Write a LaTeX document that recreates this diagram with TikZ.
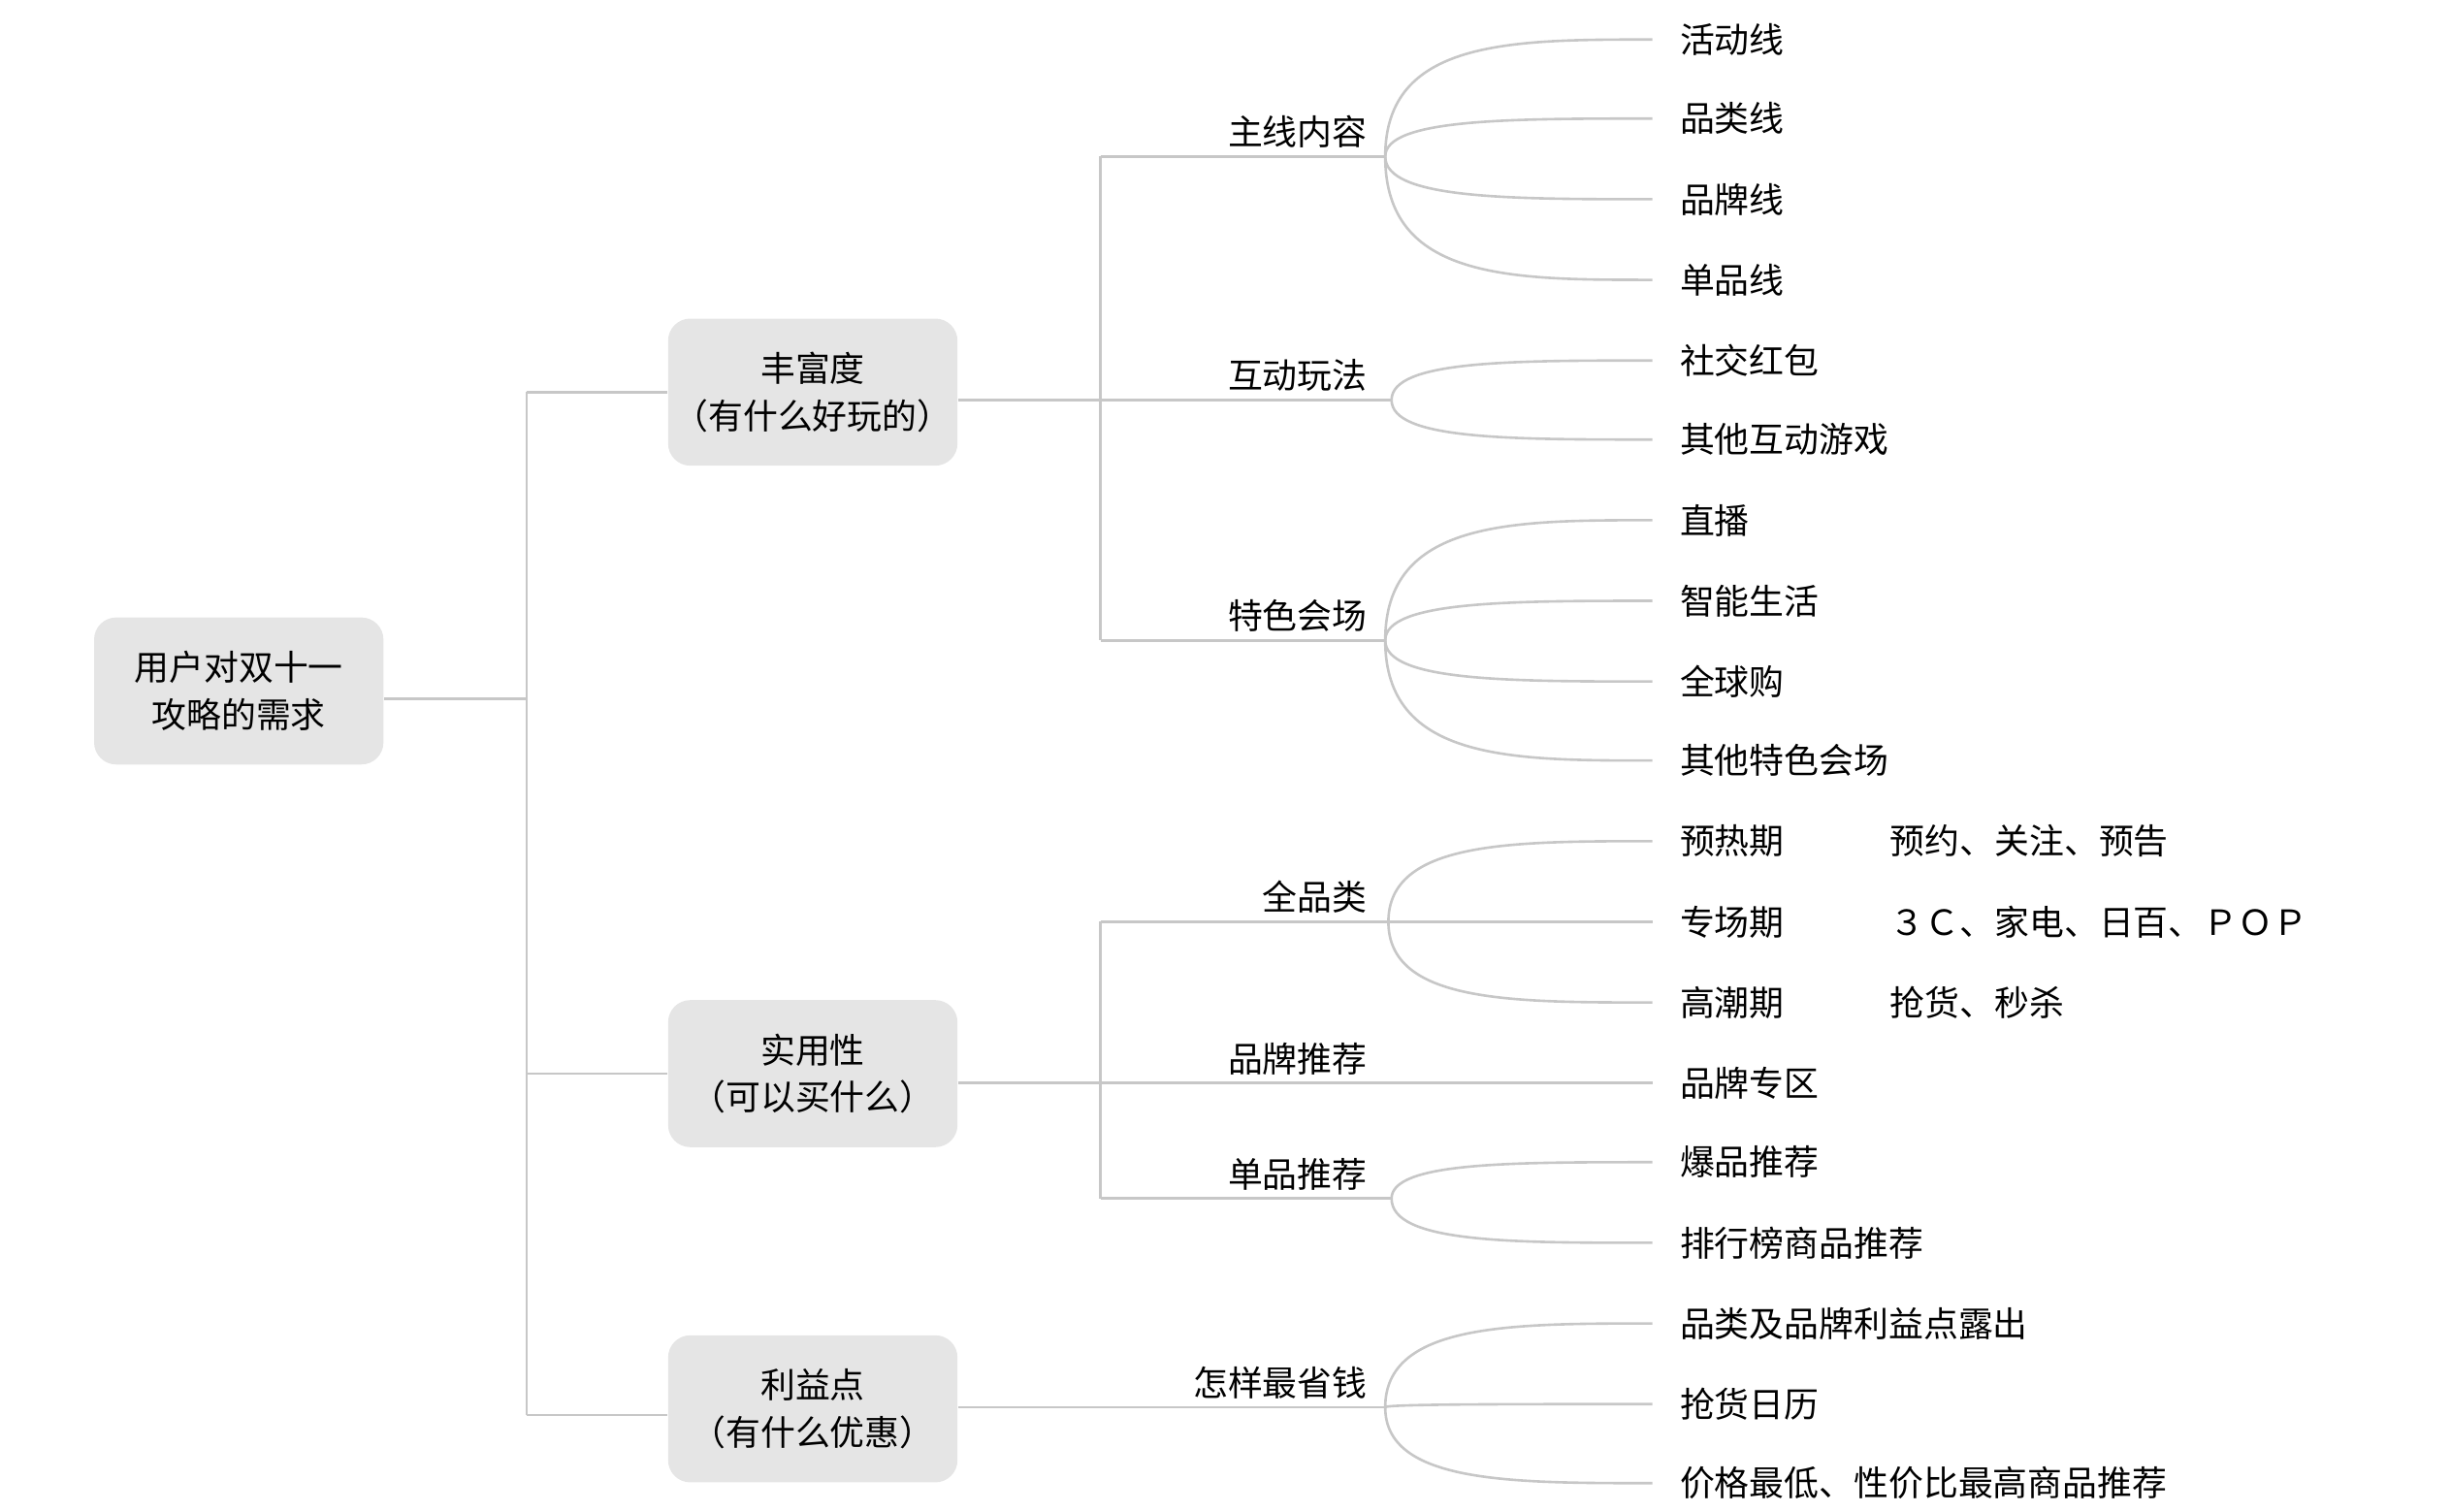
\documentclass[tikz,border=0pt]{standalone}
\usepackage{fontspec}
\setmainfont{Noto Sans CJK SC}
\begin{document}
\begin{tikzpicture}[x=0.5pt,y=-0.5pt,
  ln/.style={draw=black!22,line width=0.8pt},
  box/.style={fill=black!10,rounded corners=7pt,minimum width=91.5pt,minimum height=46.5pt,align=center,font=\fontsize{11}{15}\selectfont,inner sep=0pt},
  lab/.style={anchor=south east,inner sep=1.5pt,font=\fontsize{11}{13}\selectfont},
  leaf/.style={anchor=west,inner xsep=8.5pt,inner ysep=1pt,font=\fontsize{11}{13}\selectfont},
  ex/.style={anchor=west,inner sep=0pt,font=\fontsize{11}{13}\selectfont}]
\useasboundingbox (0,0) rectangle (1550,956);
\node[box] (root) at (151,437) {用户对双十一\\攻略的需求};
\node[box] (b1) at (514,248) {丰富度\\（有什么好玩的）};
\node[box] (b2) at (514,679) {实用性\\（可以买什么）};
\node[box] (b3) at (514,891) {利益点\\（有什么优惠）};
\coordinate (r1) at (333,442);
\draw[ln] (root.east |- r1) -- (r1);
\draw[ln] (333,248) -- (333,895);
\draw[ln] (333,248) -- (b1.west |- 0,248);
\draw[ln] (333,679) -- (b2.west |- 0,679);
\draw[ln] (333,895) -- (b3.west |- 0,895);
% branch 1
\draw[ln] (b1.east |- 0,253) -- (696,253);
\draw[ln] (696,99) -- (696,405);
\coordinate (p1) at (876,99); \coordinate (p2) at (880,253); \coordinate (p3) at (876,405);
\draw[ln] (696,99) -- (p1); \draw[ln] (696,253) -- (p2); \draw[ln] (696,405) -- (p3);
\node[lab] (l1) at (868,97) {主线内容};
\node[lab] (l2) at (868,251) {互动玩法};
\node[lab] (l3) at (868,403) {特色会场};
\node[leaf] (a1) at (1045,25) {活动线};
\node[leaf] (a2) at (1045,75) {品类线};
\node[leaf] (a3) at (1045,126) {品牌线};
\node[leaf] (a4) at (1045,177) {单品线};
\node[leaf] (c1) at (1045,228) {社交红包};
\node[leaf] (c2) at (1045,278) {其他互动游戏};
\node[leaf] (d1) at (1045,329) {直播};
\node[leaf] (d2) at (1045,380) {智能生活};
\node[leaf] (d3) at (1045,431) {全球购};
\node[leaf] (d4) at (1045,481) {其他特色会场};
% branch 2
\draw[ln] (b2.east |- 0,685) -- (696,685);
\draw[ln] (696,583) -- (696,758);
\coordinate (q1) at (878,583); \coordinate (q3) at (880,758);
\draw[ln] (696,583) -- (q1);
\draw[ln] (696,758) -- (q3);
\node[lab] (m1) at (868,581) {全品类};
\node[lab] (m2) at (868,683) {品牌推荐};
\node[lab] (m3) at (868,756) {单品推荐};
\node[leaf] (e1) at (1045,532) {预热期};
\node[leaf] (e2) at (1045,583) {专场期};
\node[leaf] (e3) at (1045,634) {高潮期};
\node[ex] (x1) at (1195,532) {预约、关注、预告};
\node[ex] (x2) at (1195,583) {３Ｃ、家电、日百、ＰＯＰ};
\node[ex] (x3) at (1195,634) {抢货、秒杀};
\node[leaf] (f1) at (1045,685) {品牌专区};
\draw[ln] (696,685) -- (f1.west);
\node[leaf] (g1) at (1045,735) {爆品推荐};
\node[leaf] (g2) at (1045,786) {排行榜商品推荐};
% branch 3
\coordinate (s1) at (876,890);
\draw[ln] (b3.east |- s1) -- (s1);
\node[lab] (n1) at (868,888) {怎样最省钱};
\node[leaf] (h1) at (1045,837) {品类及品牌利益点露出};
\node[leaf] (h2) at (1045,888) {抢货日历};
\node[leaf] (h3) at (1045,938) {价格最低、性价比最高商品推荐};
% curves
\foreach \p/\n in {p1/a1,p1/a2,p1/a3,p1/a4,p2/c1,p2/c2,p3/d1,p3/d2,p3/d3,p3/d4,q1/e1,q1/e2,q1/e3,q3/g1,q3/g2,s1/h1,s1/h2,s1/h3}
  \draw[ln] (\p) .. controls (\p |- \n.west) and ([xshift=-45]\n.west) .. (\n.west);
\end{tikzpicture}
\end{document}
